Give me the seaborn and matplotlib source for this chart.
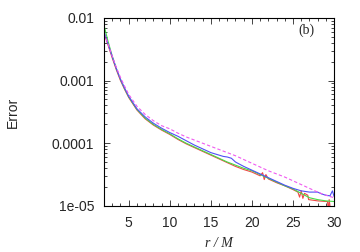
import numpy as np
import pandas as pd
import matplotlib
matplotlib.use("Agg")
import matplotlib.pyplot as plt
import seaborn as sns
from matplotlib.ticker import FixedLocator, LogLocator, NullFormatter, MultipleLocator

# values (y given as log10 of the error)
red_x = [2, 2.5, 3, 3.5, 4, 4.5, 5, 6, 7, 8, 9, 10, 11, 12, 13, 14, 15, 16, 17, 18, 19, 20, 21,
         21.3, 21.5, 21.7, 22, 23, 24, 25, 25.6, 25.8, 26.0, 26.2, 26.4, 26.8, 26.9, 28, 29,
         29.2, 29.3, 29.4, 29.6]
red_logy = [-2.24, -2.44, -2.64, -2.83, -3.00, -3.14, -3.27, -3.47, -3.61, -3.71, -3.79, -3.86,
            -3.94, -4.01, -4.07, -4.13, -4.19, -4.25, -4.31, -4.37, -4.42, -4.46, -4.52,
            -4.47, -4.58, -4.50, -4.57, -4.63, -4.68, -4.74, -4.78, -4.86, -4.76, -4.88, -4.80,
            -4.83, -4.90, -4.92, -4.93, -4.93, -5.1, -4.90, -5.1]

green_x = [2, 2.5, 3, 3.5, 4, 4.5, 5, 6, 7, 8, 9, 10, 11, 12, 13, 14, 15, 16, 17, 18, 19, 20,
           21, 22, 23, 24, 25, 26, 27, 28, 29, 30]
green_logy = [-2.12, -2.38, -2.61, -2.81, -2.98, -3.13, -3.26, -3.46, -3.60, -3.70, -3.78, -3.85,
              -3.93, -4.00, -4.06, -4.12, -4.18, -4.24, -4.30, -4.35, -4.40, -4.44, -4.50,
              -4.56, -4.62, -4.68, -4.73, -4.80, -4.87, -4.90, -4.92, -4.93]

blue_x = [2, 2.5, 3, 3.5, 4, 4.5, 5, 6, 7, 8, 9, 10, 11, 12, 13, 14, 15, 16, 16.5, 17, 17.5, 18,
          19, 20, 21, 22, 23, 24, 25, 26, 27, 28, 28.5, 29, 29.5, 29.8, 30]
blue_logy = [-2.22, -2.42, -2.62, -2.81, -2.98, -3.12, -3.25, -3.45, -3.58, -3.68, -3.76, -3.83,
             -3.89, -3.96, -4.03, -4.09, -4.15, -4.19, -4.21, -4.22, -4.24, -4.30, -4.37, -4.43,
             -4.49, -4.55, -4.61, -4.67, -4.72, -4.76, -4.78, -4.78, -4.81, -4.83, -4.84,
             -4.76, -4.85]

pink_x = [2, 2.5, 3, 3.5, 4, 4.5, 5, 6, 7, 8, 9, 10, 11, 12, 13, 14, 15, 16, 17, 18, 19, 20,
          21, 22, 23, 24, 25, 26, 27, 28, 29, 30]
pink_logy = [-2.25, -2.42, -2.61, -2.79, -2.95, -3.09, -3.22, -3.41, -3.54, -3.64, -3.72, -3.77,
             -3.84, -3.90, -3.95, -4.00, -4.05, -4.10, -4.15, -4.20, -4.26, -4.32, -4.38,
             -4.44, -4.49, -4.54, -4.60, -4.66, -4.72, -4.78, -4.83, -4.87]

y_ticks = [1e-5, 1e-4, 1e-3, 1e-2]
y_ticklabels = ["1e-05", "0.0001", "0.001", "0.01"]
x_ticks = [5, 10, 15, 20, 25, 30]

sns.set_style("ticks")
plt.rcParams["font.family"] = ["Liberation Sans", "DejaVu Sans"]

fig = plt.figure(figsize=(3.6, 2.52), dpi=100)
ax = fig.add_axes([0.289, 0.183, 0.639, 0.746])

series = [
    (red_x, red_logy, "#f04646", "-"),
    (green_x, green_logy, "#46dc46", "-"),
    (blue_x, blue_logy, "#5050f5", "-"),
    (pink_x, pink_logy, "#f05af0", (0, (3, 2))),
]
for xs, ly, col, ls in series:
    d = pd.DataFrame({"r": xs, "err": np.power(10.0, ly)})
    sns.lineplot(data=d, x="r", y="err", ax=ax, color=col, lw=0.8,
                 linestyle=ls, estimator=None, sort=False)

ax.set_yscale("log")
ax.set_xlim(2, 30)
ax.set_ylim(1e-5, 1e-2)
ax.yaxis.set_major_locator(FixedLocator(y_ticks))
ax.set_yticklabels(y_ticklabels)
ax.yaxis.set_minor_locator(LogLocator(base=10, subs=np.arange(2, 10)))
ax.yaxis.set_minor_formatter(NullFormatter())
ax.xaxis.set_major_locator(FixedLocator(x_ticks))
ax.xaxis.set_minor_locator(MultipleLocator(1))

ax.tick_params(which="both", direction="in", top=True, right=True, labelsize=10, width=0.6)
ax.tick_params(which="major", length=4, pad=7)
ax.tick_params(which="minor", length=2)
for s in ax.spines.values():
    s.set_linewidth(0.8)
    s.set_color("black")

ax.set_xlabel("r / M", family=["Liberation Serif"], style="italic", fontsize=10)
ax.set_ylabel("Error", fontsize=10)
ax.xaxis.set_label_coords(0.5, -0.165)
ax.yaxis.set_label_coords(-0.365, 0.5)
ax.text(0.878, 0.936, "(b)", transform=ax.transAxes, family=["Liberation Serif"],
        fontsize=10, ha="center", va="center")

fig.savefig("out.png", dpi=100)
